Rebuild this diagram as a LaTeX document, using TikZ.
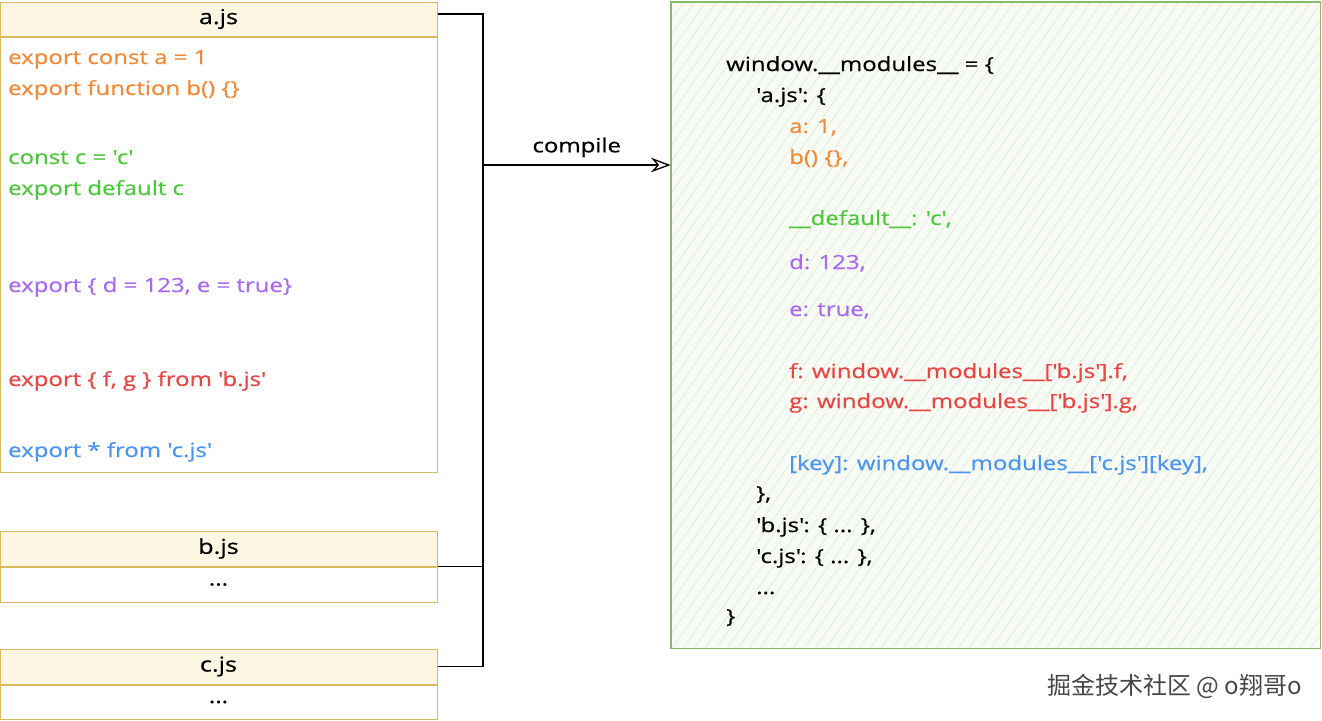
\documentclass[tikz,border=0pt]{standalone}
\usepackage{fontspec}
\setmainfont{Open Sans}[FakeStretch=1.23, FakeBold=0.6]
\newfontfamily\cjk{Noto Sans CJK SC}
\usetikzlibrary{arrows.meta}
\definecolor{cOr}{HTML}{EF8A3A}
\definecolor{cGr}{HTML}{4EC63D}
\definecolor{cPu}{HTML}{A86BEF}
\definecolor{cRe}{HTML}{E84545}
\definecolor{cBl}{HTML}{4C95EE}
\definecolor{yBorder}{HTML}{D9B95E}
\definecolor{yFill}{HTML}{FDF6E3}
\definecolor{gBorder}{HTML}{86BB6A}
\definecolor{gFill}{HTML}{F7FBF4}
\definecolor{gHatch}{HTML}{DDEBD5}
\newcommand\q{\textquotesingle}
\tikzset{
  hdr/.style={draw=yBorder, fill=yFill, line width=1pt, minimum width=437pt, inner sep=0pt, font=\fontsize{20.5}{24}\selectfont},
  bodybox/.style={draw=yBorder, fill=white, line width=1pt, minimum width=437pt, inner sep=0pt, font=\fontsize{19.5}{22}\selectfont},
  code/.style={anchor=base west, inner sep=0pt, font=\fontsize{19.5}{22}\selectfont},
  conn/.style={draw=black, line width=1.3pt},
}
\begin{document}
\begin{tikzpicture}[x=1pt,y=-1pt]
\useasboundingbox (0,0) rectangle (1322,720);
% green output box
\node[draw=gBorder, fill=gFill, line width=1pt, minimum width=649pt, minimum height=646pt, inner sep=0pt] (out) at (995.5,325) {};
\begin{scope}
\clip (672,3) rectangle (1319,647);
\foreach \i in {0,11,...,1100} {
  \draw[gHatch, line width=0.6pt] (672+\i-450,647) -- (672+\i,3);
}
\end{scope}
\draw[gBorder, line width=1pt] (out.north west) rectangle (out.south east);

% a.js
\node[hdr, minimum height=34pt] (ah) at (218.5,19) {a.js};
\node[bodybox, minimum height=435pt, anchor=north] (ab) at (ah.south) {};
\node[code, text=cOr] (a1) at (8,64) {export const a = 1};
\node[code, text=cOr] (a2) at (8,95) {export function b() \{\}};
\node[code, text=cGr] (a3) at (8,164) {const c = \q c\q};
\node[code, text=cGr] (a4) at (8,195) {export default c};
\node[code, text=cPu] (a5) at (8,292) {export \{ d = 123, e = true\}};
\node[code, text=cRe] (a6) at (8,386) {export \{ f, g \} from \q b.js\q};
\node[code, text=cBl] (a7) at (8,457) {export * from \q c.js\q};

% b.js
\node[hdr, minimum height=35pt] (bh) at (218.5,548.5) {b.js};
\node[bodybox, minimum height=35pt, anchor=north] (bb) at (bh.south) {...};
% c.js
\node[hdr, minimum height=35pt] (ch) at (218.5,666.5) {c.js};
\node[bodybox, minimum height=34pt, anchor=north] (cb) at (ch.south) {...};

% connectors
\coordinate (j) at (483,165);
\coordinate (jt) at (483,14);
\draw[conn] (ah.north east |- jt) -- (jt) -- (j);
\draw[conn] (bh.south east) -| (j);
\draw[conn] (ch.east) -| (j);
\draw[conn, -{Stealth[open, scale=2.2]}] (j) -- (out.west |- j)
  node[midway, above=4pt, font=\fontsize{19.5}{22}\selectfont, text=black] (lab) {compile};

% output code
\node[code] (o1) at (726,71) {window.\_\_modules\_\_ = \{};
\node[code] (o2) at (756,102) {\q a.js\q: \{};
\node[code, text=cOr] (o3) at (789,133) {a: 1,};
\node[code, text=cOr] (o4) at (789,164) {b() \{\},};
\node[code, text=cGr] (o5) at (789,225) {\_\_default\_\_: \q c\q,};
\node[code, text=cPu] (o6) at (789,269) {d: 123,};
\node[code, text=cPu] (o7) at (789,316) {e: true,};
\node[code, text=cRe] (o8) at (789,378) {f: window.\_\_modules\_\_[\q b.js\q].f,};
\node[code, text=cRe] (o9) at (789,408) {g: window.\_\_modules\_\_[\q b.js\q].g,};
\node[code, text=cBl] (o10) at (789,470) {[key]: window.\_\_modules\_\_[\q c.js\q][key],};
\node[code] (o11) at (756,500) {\},};
\node[code] (o12) at (756,532) {\q b.js\q: \{ ... \},};
\node[code] (o13) at (756,563) {\q c.js\q: \{ ... \},};
\node[code] (o14) at (756,594) {...};
\node[code] (o15) at (726,623) {\}};

% watermark
\node[anchor=east, inner sep=0pt, text=gray!55!black, font=\cjk\fontsize{24}{26}\selectfont] (wm) at (1302,686) {掘金技术社区 @ o翔哥o};
\end{tikzpicture}
\end{document}
